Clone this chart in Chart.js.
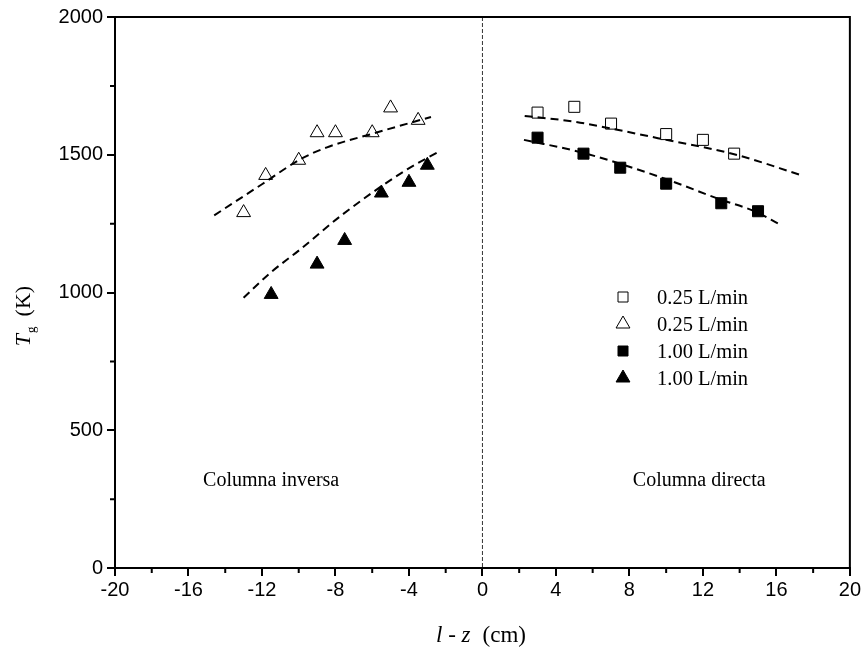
<!DOCTYPE html>
<html lang="es">
<head>
    <meta charset="UTF-8">
    <title>Tg columna</title>
    <script src="https://cdn.jsdelivr.net/npm/chart.js@4.4.1/dist/chart.umd.min.js"></script>
    <style>
        body { margin: 0; background: #fff; }
    </style>
</head>
<body>
<div style="width:863px;height:653px;">
    <canvas id="myChart" width="863" height="653"></canvas>
</div>
<script>
    // measured points
    var sqOpenX = [3, 5, 7, 10, 12, 13.7];
    var sqOpenY = [1653, 1674, 1613, 1575, 1554, 1504];
    var triOpenX = [-13, -11.8, -10, -9, -8, -6, -5, -3.5];
    var triOpenY = [1290, 1425, 1480, 1580, 1580, 1580, 1670, 1625];
    var sqFillX = [3, 5.5, 7.5, 10, 13, 15];
    var sqFillY = [1562, 1504, 1453, 1395, 1324, 1295];
    var triFillX = [-11.5, -9, -7.5, -5.5, -4, -3];
    var triFillY = [993, 1103, 1189, 1361, 1400, 1462];

    // dashed fit curves
    var fitSqOpenX = [2.3, 5, 7, 10, 13.7, 17.4];
    var fitSqOpenY = [1641, 1620, 1595, 1554, 1502, 1425];
    var fitSqFillX = [2.26, 5.43, 9.93, 12.93, 14.92, 16.1];
    var fitSqFillY = [1554, 1508, 1413, 1338, 1292, 1250];
    var fitTriOpenX = [-14.6, -12, -9.9, -8.5, -5.9, -4.5, -2.8];
    var fitTriOpenY = [1280, 1393, 1484, 1526, 1578, 1605, 1637];
    var fitTriFillX = [-13, -11.5, -10, -7.6, -4.1, -2.3];
    var fitTriFillY = [981, 1074, 1152, 1284, 1447, 1514];

    var legendLabels = ['0.25 L/min', '0.25 L/min', '1.00 L/min', '1.00 L/min'];
    var regionLabels = ['Columna inversa', 'Columna directa'];
    var regionX = [-11.5, 11.8];

    var serif = "'Liberation Serif', 'Times New Roman', serif";
    var sans = "'Liberation Sans', Arial, sans-serif";

    function pts(xs, ys) {
        var out = [];
        for (var i = 0; i < xs.length; i++) {
            out.push({x: xs[i], y: ys[i]});
        }
        return out;
    }

    function markers(xs, ys, style, filled) {
        return {
            data: pts(xs, ys),
            showLine: false,
            pointStyle: style,
            pointRadius: style == 'rect' ? 7.8 : 8,
            pointHoverRadius: 8,
            pointBorderWidth: 1,
            pointBorderColor: '#000',
            pointBackgroundColor: filled ? '#000' : '#fff'
        };
    }

    function fit(xs, ys) {
        return {
            data: pts(xs, ys),
            showLine: true,
            pointRadius: 0,
            borderColor: '#000',
            borderWidth: 2,
            borderDash: [8, 5],
            cubicInterpolationMode: 'monotone',
            fill: false
        };
    }

    function drawSymbol(ctx, kind, x, y) {
        ctx.save();
        ctx.lineWidth = 1;
        ctx.strokeStyle = '#000';
        ctx.fillStyle = (kind == 'sqFill' || kind == 'triFill') ? '#000' : '#fff';
        ctx.beginPath();
        if (kind == 'sqOpen' || kind == 'sqFill') {
            ctx.rect(x - 5, y - 5, 10, 10);
        } else {
            var r = 8;
            ctx.moveTo(x, y - r);
            ctx.lineTo(x + r * 0.866, y + r / 2);
            ctx.lineTo(x - r * 0.866, y + r / 2);
            ctx.closePath();
        }
        ctx.fill();
        ctx.stroke();
        ctx.restore();
    }

    var decor = {
        id: 'decor',
        beforeDatasetsDraw: function (chart) {
            var ctx = chart.ctx, a = chart.chartArea;
            var x0 = chart.scales.x.getPixelForValue(0);
            ctx.save();
            ctx.strokeStyle = '#333';
            ctx.lineWidth = 1;
            ctx.setLineDash([4, 2]);
            ctx.beginPath();
            ctx.moveTo(x0, a.top);
            ctx.lineTo(x0, a.bottom);
            ctx.stroke();
            ctx.restore();
        },
        afterDraw: function (chart) {
            var ctx = chart.ctx, a = chart.chartArea;
            var xs = chart.scales.x, ys = chart.scales.y;
            ctx.save();
            // frame
            ctx.strokeStyle = '#000';
            ctx.lineWidth = 2;
            ctx.strokeRect(a.left, a.top, a.right - a.left, a.bottom - a.top);
            // minor ticks
            ctx.beginPath();
            for (var v = -18; v < 20; v += 4) {
                var px = xs.getPixelForValue(v);
                ctx.moveTo(px, a.bottom);
                ctx.lineTo(px, a.bottom + 5);
            }
            for (var w = 250; w < 2000; w += 500) {
                var py = ys.getPixelForValue(w);
                ctx.moveTo(a.left, py);
                ctx.lineTo(a.left - 5, py);
            }
            ctx.stroke();

            ctx.fillStyle = '#000';
            ctx.textBaseline = 'alphabetic';
            // y title: T_g (K)
            ctx.save();
            ctx.translate(30, 316);
            ctx.rotate(-Math.PI / 2);
            ctx.font = 'italic 22px ' + serif;
            var wT = ctx.measureText('T').width;
            ctx.font = '13px ' + serif;
            var wg = ctx.measureText('g').width;
            ctx.font = '22px ' + serif;
            var wK = ctx.measureText('(K)').width;
            var gap = 10;
            var total = wT + 1 + wg + gap + wK;
            var sx = -total / 2;
            ctx.font = 'italic 22px ' + serif;
            ctx.fillText('T', sx, 0);
            ctx.font = '13px ' + serif;
            ctx.fillText('g', sx + wT + 1, 5);
            ctx.font = '22px ' + serif;
            ctx.fillText('(K)', sx + wT + 1 + wg + gap, 0);
            ctx.restore();

            // x title: l - z (cm)
            ctx.font = 'italic 23px ' + serif;
            var part1 = 'l - z';
            var w1 = ctx.measureText(part1).width;
            ctx.font = '23px ' + serif;
            var part2 = '(cm)';
            var w2 = ctx.measureText(part2).width;
            var gap2 = 12;
            var tx = 481 - (w1 + gap2 + w2) / 2;
            ctx.font = 'italic 23px ' + serif;
            ctx.fillText(part1, tx, 642);
            ctx.font = '23px ' + serif;
            ctx.fillText(part2, tx + w1 + gap2, 642);

            // legend
            var kinds = ['sqOpen', 'triOpen', 'sqFill', 'triFill'];
            for (var i = 0; i < kinds.length; i++) {
                var cy = 297 + i * 27;
                drawSymbol(ctx, kinds[i], 623, cy);
                ctx.fillStyle = '#000';
                ctx.font = '20.5px ' + serif;
                ctx.textAlign = 'left';
                ctx.fillText(legendLabels[i], 657, cy + 7);
            }

            // region labels
            ctx.textAlign = 'center';
            ctx.font = '20px ' + serif;
            for (var j = 0; j < regionLabels.length; j++) {
                ctx.fillText(regionLabels[j], xs.getPixelForValue(regionX[j]), 486);
            }
            ctx.restore();
        }
    };

    window.onload = function () {
        var ctx = document.getElementById('myChart');
        var myChart = new Chart(ctx, {
            type: 'scatter',
            data: {
                datasets: [
                    fit(fitSqOpenX, fitSqOpenY),
                    fit(fitSqFillX, fitSqFillY),
                    fit(fitTriOpenX, fitTriOpenY),
                    fit(fitTriFillX, fitTriFillY),
                    markers(sqOpenX, sqOpenY, 'rect', false),
                    markers(triOpenX, triOpenY, 'triangle', false),
                    markers(sqFillX, sqFillY, 'rect', true),
                    markers(triFillX, triFillY, 'triangle', true)
                ]
            },
            options: {
                responsive: false,
                animation: false,
                layout: {padding: {top: 17, right: 13, left: 0, bottom: 0}},
                plugins: {
                    legend: {display: false},
                    tooltip: {enabled: false}
                },
                scales: {
                    x: {
                        type: 'linear',
                        min: -20,
                        max: 20,
                        afterFit: function (scale) { scale.height = 85; },
                        ticks: {
                            stepSize: 4,
                            padding: 2,
                            color: '#000',
                            maxRotation: 0,
                            font: {family: sans, size: 20},
                            callback: function (v) { return String(v); }
                        },
                        grid: {
                            drawOnChartArea: false,
                            drawTicks: true,
                            tickLength: 8,
                            color: '#000',
                            lineWidth: 2
                        },
                        border: {display: true, color: '#000', width: 2}
                    },
                    y: {
                        min: 0,
                        max: 2000,
                        afterFit: function (scale) { scale.width = 115; },
                        ticks: {
                            stepSize: 500,
                            padding: 4,
                            color: '#000',
                            font: {family: sans, size: 20},
                            callback: function (v) { return String(v); }
                        },
                        grid: {
                            drawOnChartArea: false,
                            drawTicks: true,
                            tickLength: 8,
                            color: '#000',
                            lineWidth: 2
                        },
                        border: {display: true, color: '#000', width: 2}
                    }
                }
            },
            plugins: [decor]
        });
    };
</script>
</body>
</html>
